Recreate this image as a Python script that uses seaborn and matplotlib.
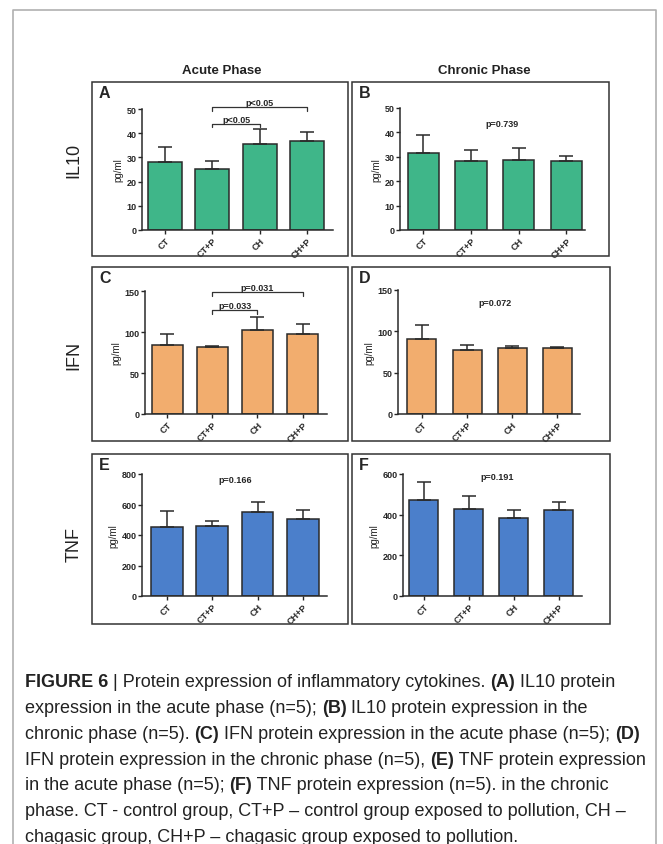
import numpy as np
import pandas as pd
import seaborn as sns
import matplotlib.pyplot as plt
from matplotlib.patches import Rectangle
from matplotlib.lines import Line2D

# data (mean and upper error, pg/ml)
groups = ['CT', 'CT+P', 'CH', 'CH+P']

il10_acute = [28.2, 25.2, 35.5, 36.8]
il10_acute_err = [6.2, 3.4, 6.1, 3.6]
il10_chronic = [31.6, 28.2, 28.6, 28.2]
il10_chronic_err = [7.3, 4.6, 5.2, 2.2]

ifn_acute = [84.4, 82.3, 102.7, 97.8]
ifn_acute_err = [13.0, 0.5, 15.5, 11.4]
ifn_chronic = [91.0, 77.4, 79.4, 79.4]
ifn_chronic_err = [17.0, 6.0, 3.2, 1.6]

tnf_acute = [453, 460, 548, 504]
tnf_acute_err = [102, 33, 70, 61]
tnf_chronic = [472, 427, 386, 424]
tnf_chronic_err = [87, 65, 38, 38]

col_titles = ['Acute Phase', 'Chronic Phase']
row_titles = ['IL10', 'IFN', 'TNF']
row_colors = ['#3fb689', '#f2ad6e', '#4b7fcb']

caption = [
    [('FIGURE 6', True), (' | Protein expression of inflammatory cytokines. ', False), ('(A)', True), (' IL10 protein', False)],
    [('expression in the acute phase (n=5); ', False), ('(B)', True), (' IL10 protein expression in the', False)],
    [('chronic phase (n=5). ', False), ('(C)', True), (' IFN protein expression in the acute phase (n=5); ', False), ('(D)', True)],
    [('IFN protein expression in the chronic phase (n=5), ', False), ('(E)', True), (' TNF protein expression', False)],
    [('in the acute phase (n=5); ', False), ('(F)', True), (' TNF protein expression (n=5). in the chronic', False)],
    [('phase. CT - control group, CT+P \u2013 control group exposed to pollution, CH \u2013', False)],
    [('chagasic group, CH+P \u2013 chagasic group exposed to pollution.', False)],
]

W, H = 663, 845
sns.set_style('white')
plt.rcParams['font.family'] = ['Liberation Sans', 'DejaVu Sans']

fig = plt.figure(figsize=(W / 100, H / 100), dpi=100)


def fx(x):
    return x / W


def fy(y):
    return 1 - y / H


# panels: letter, values, err, ymax, yticks, axes px box (x0, x1, ytop, ybottom), xlim, bar width, frame px, row
panels = [
    ('A', il10_acute, il10_acute_err, 50, [0, 10, 20, 30, 40, 50], (142, 333, 110, 231), (-0.49, 3.55), 0.72, (92, 348, 83, 257), 0),
    ('B', il10_chronic, il10_chronic_err, 50, [0, 10, 20, 30, 40, 50], (400, 585, 109, 231), (-0.49, 3.39), 0.66, (352, 609, 83, 257), 0),
    ('C', ifn_acute, ifn_acute_err, 150, [0, 50, 100, 150], (145, 327, 292, 415), (-0.49, 3.54), 0.69, (92, 348, 268, 442), 1),
    ('D', ifn_chronic, ifn_chronic_err, 150, [0, 50, 100, 150], (398, 580, 291, 415), (-0.53, 3.5), 0.64, (352, 610, 268, 442), 1),
    ('E', tnf_acute, tnf_acute_err, 800, [0, 200, 400, 600, 800], (142, 327, 475, 597), (-0.55, 3.53), 0.70, (92, 348, 455, 625), 2),
    ('F', tnf_chronic, tnf_chronic_err, 600, [0, 200, 400, 600], (403, 582, 475, 597), (-0.46, 3.52), 0.64, (352, 610, 455, 625), 2),
]

axes = {}
for letter, vals, errs, ymax, yticks, (x0, x1, yt, yb), xlim, bw, box, row in panels:
    ax = fig.add_axes([fx(x0), fy(yb), (x1 - x0) / W, (yb - yt) / H])
    df = pd.DataFrame({'group': groups, 'value': vals})
    sns.barplot(data=df, x='group', y='value', ax=ax, color=row_colors[row],
                saturation=1, width=bw, edgecolor='#2a2a2a', linewidth=1.1, errorbar=None)
    ax.errorbar(range(len(groups)), vals, yerr=[np.zeros(len(errs)), errs], fmt='none',
                ecolor='#2a2a2a', elinewidth=1.1, capsize=5, capthick=1.1, zorder=1)
    ax.set_xlim(*xlim)
    ax.set_ylim(0, ymax)
    ax.set_yticks(yticks)
    ax.set_xlabel('')
    ax.set_ylabel('pg/ml', fontsize=7, labelpad=2)
    sns.despine(ax=ax)
    for s in ['left', 'bottom']:
        ax.spines[s].set_color('#2a2a2a')
        ax.spines[s].set_linewidth(1.1)
    ax.tick_params(axis='y', direction='out', length=3, width=1, labelsize=6.5, pad=1, left=True)
    ax.tick_params(axis='x', direction='out', length=3, width=1, labelsize=6.5, pad=1, bottom=True)
    for t in ax.get_yticklabels():
        t.set_fontweight('bold')
    ax.set_xticks(range(len(groups)))
    ax.set_xticklabels(groups, rotation=45, ha='right', rotation_mode='anchor', fontweight='bold')
    ax.set_facecolor('none')
    # panel frame and letter
    bx0, bx1, bt, bb = box
    fig.patches.append(Rectangle((fx(bx0), fy(bb)), (bx1 - bx0) / W, (bb - bt) / H,
                                 transform=fig.transFigure, fill=False, edgecolor='#333333', lw=1.1))
    fig.text(fx(bx0 + 7), fy(bt + 3), letter, fontsize=11.5, fontweight='bold', va='top', ha='left')
    axes[letter] = ax


def bracket(ax, x1, x2, y, h, label):
    ax.plot([x1, x1, x2, x2], [y - h, y, y, y - h], color='#333333', lw=0.9, clip_on=False)
    ax.text((x1 + x2) / 2, y, label, ha='center', va='bottom', fontsize=6.5, fontweight='bold', clip_on=False)


bracket(axes['A'], 1, 2, 44.0, 1.6, 'p<0.05')
bracket(axes['A'], 1, 3, 50.9, 1.6, 'p<0.05')
bracket(axes['C'], 1, 2, 126.3, 4.5, 'p=0.033')
bracket(axes['C'], 1, 3, 148.8, 4.5, 'p=0.031')

axes['B'].text(1.65, 43.5, 'p=0.739', ha='center', va='center', fontsize=6.5, fontweight='bold')
axes['D'].text(1.62, 135, 'p=0.072', ha='center', va='center', fontsize=6.5, fontweight='bold')
axes['E'].text(1.5, 765, 'p=0.166', ha='center', va='center', fontsize=6.5, fontweight='bold')
axes['F'].text(1.63, 590, 'p=0.191', ha='center', va='center', fontsize=6.5, fontweight='bold')

# column and row titles
fig.text(fx(222), fy(71), col_titles[0], fontsize=9.5, fontweight='bold', ha='center', va='center', color='#222222')
fig.text(fx(484), fy(71), col_titles[1], fontsize=9.5, fontweight='bold', ha='center', va='center', color='#222222')
for lab, yc in zip(row_titles, [160, 355, 545]):
    fig.text(fx(74), fy(yc), lab, fontsize=13, rotation=90, ha='center', va='center', color='#222222')

# outer frame (no bottom edge)
frame = Line2D([fx(13), fx(13), fx(656), fx(656)], [0, fy(11), fy(11), 0],
               transform=fig.transFigure, color='#b0b0b0', lw=1.2)
fig.lines.append(frame)

# caption with bold parts, laid out piece by piece
renderer = fig.canvas.get_renderer()
y0 = 683
for i, line in enumerate(caption):
    x = fx(25)
    y = fy(y0 + i * 25.7)
    for txt, bold in line:
        t = fig.text(x, y, txt, fontsize=13, fontweight='bold' if bold else 'normal',
                     ha='left', va='center', color='#222222')
        bb = t.get_window_extent(renderer=renderer)
        x = x + bb.width / W

fig.savefig('out.png', dpi=100)
